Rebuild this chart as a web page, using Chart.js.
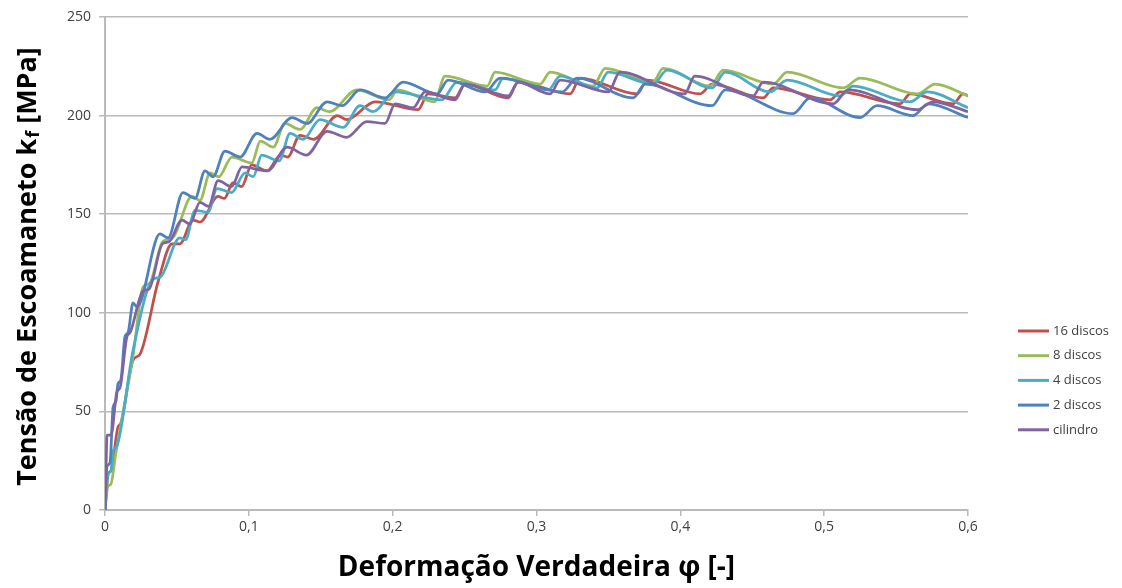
<!DOCTYPE html>
<html>
<head>
<meta charset="utf-8">
<script src="https://cdn.jsdelivr.net/npm/chart.js@4"></script>
<style>
  body { margin: 0; background: #fff; }
  #wrap { width: 1122px; height: 588px; position: relative; }
</style>
</head>
<body>
<div id="wrap"><canvas id="flowChart"></canvas></div>
<script>
// curvas de escoamento (deformacao verdadeira x tensao kf em MPa)
var seriesNames = ["16 discos", "8 discos", "4 discos", "2 discos", "cilindro"];
var seriesColors = ["#c0504d", "#9bbb59", "#4bacc6", "#4f81bd", "#8064a2"];

var disc16Phi = [0, 0.0021, 0.0042, 0.009, 0.011, 0.0195, 0.0243, 0.037, 0.0466, 0.052, 0.0612, 0.066, 0.0786, 0.083, 0.089, 0.095, 0.102, 0.1127, 0.122, 0.127, 0.1356, 0.145, 0.1616, 0.168, 0.1878, 0.2177, 0.2246, 0.2434, 0.2503, 0.2803, 0.2872, 0.3234, 0.3303, 0.37, 0.3769, 0.4138, 0.4221, 0.4576, 0.4645, 0.5042, 0.5111, 0.5528, 0.5598, 0.5897, 0.5966, 0.6];
var disc16Kf = [0, 18, 20, 42, 44, 76, 79, 116, 135, 135, 147, 146, 159, 158, 166, 164, 175, 172, 180, 179, 190, 188, 200, 198, 207, 203, 211, 209, 216, 209, 217, 211, 219, 211, 218, 211, 216, 209, 214, 208, 212, 206, 211, 206, 211, 210];

var disc8Phi = [0, 0.002, 0.004, 0.0076, 0.0139, 0.0195, 0.0264, 0.031, 0.040, 0.047, 0.0605, 0.066, 0.073, 0.079, 0.0883, 0.102, 0.108, 0.117, 0.125, 0.1356, 0.1474, 0.156, 0.1752, 0.1975, 0.2033, 0.229, 0.2364, 0.2657, 0.2712, 0.3025, 0.3095, 0.3394, 0.3477, 0.381, 0.388, 0.4207, 0.4298, 0.4645, 0.4743, 0.5132, 0.525, 0.5647, 0.5772, 0.6];
var disc8Kf = [0, 12, 13, 29, 55, 78, 113, 115, 136, 138, 159, 157, 171, 169, 179, 176, 187, 184, 196, 193, 204, 202, 213, 208, 213, 207, 220, 215, 222, 216, 222, 215, 224, 217, 224, 215, 223, 216, 222, 214, 219, 211, 216, 210];

var disc4Phi = [0, 0.0021, 0.0042, 0.0056, 0.008, 0.0195, 0.0334, 0.0382, 0.052, 0.056, 0.0626, 0.0716, 0.0779, 0.088, 0.0974, 0.103, 0.109, 0.121, 0.1287, 0.1377, 0.1495, 0.1655, 0.1773, 0.1864, 0.2017, 0.234, 0.2448, 0.2712, 0.2768, 0.3081, 0.3164, 0.3421, 0.3498, 0.3811, 0.3908, 0.4221, 0.4312, 0.4624, 0.4743, 0.5111, 0.5202, 0.5598, 0.5716, 0.6];
var disc4Kf = [0, 18, 20, 30, 32, 81, 117, 118, 138, 137, 152, 151, 163, 161, 171, 169, 180, 177, 191, 188, 198, 194, 205, 202, 212, 208, 217, 213, 219, 213, 220, 214, 222, 216, 223, 214, 222, 212, 218, 210, 215, 207, 212, 204];

var disc2Phi = [0, 0.0014, 0.0035, 0.0056, 0.0076, 0.009, 0.011, 0.0139, 0.016, 0.0195, 0.0223, 0.0382, 0.0438, 0.0542, 0.0626, 0.0695, 0.0751, 0.0834, 0.0939, 0.1057, 0.1147, 0.130, 0.1405, 0.1544, 0.1648, 0.1773, 0.1947, 0.2072, 0.2309, 0.2385, 0.2643, 0.2747, 0.3178, 0.3282, 0.3672, 0.3755, 0.4221, 0.4312, 0.4784, 0.4903, 0.525, 0.5368, 0.5619, 0.5723, 0.6];
var disc2Kf = [0, 22, 24, 52, 55, 64, 66, 88, 90, 105, 103, 140, 138, 161, 158, 172, 169, 182, 179, 191, 188, 199, 196, 207, 205, 213, 209, 217, 211, 218, 212, 219, 212, 219, 209, 216, 205, 213, 201, 209, 199, 205, 200, 206, 199];

var cylPhi = [0, 0.0007, 0.0014, 0.0042, 0.0083, 0.0104, 0.0153, 0.0174, 0.0264, 0.0306, 0.040, 0.0445, 0.0535, 0.059, 0.066, 0.072, 0.0786, 0.088, 0.0953, 0.113, 0.1266, 0.14, 0.1544, 0.168, 0.182, 0.1947, 0.2017, 0.2142, 0.2225, 0.2434, 0.2503, 0.2803, 0.2872, 0.3095, 0.3164, 0.35, 0.358, 0.403, 0.41, 0.4506, 0.4576, 0.5062, 0.5167, 0.5647, 0.5758, 0.6];
var cylKf = [0, 20, 38, 38, 60, 62, 88, 90, 111, 112, 135, 136, 147, 145, 156, 154, 167, 164, 174, 172, 184, 180, 192, 189, 197, 196, 206, 204, 212, 208, 216, 210, 217, 211, 218, 212, 222, 211, 220, 210, 217, 206, 213, 203, 207, 202];

var xTicks = [0, 0.1, 0.2, 0.3, 0.4, 0.5, 0.6];
var yTicks = [0, 50, 100, 150, 200, 250];

var allPhi = [disc16Phi, disc8Phi, disc4Phi, disc2Phi, cylPhi];
var allKf = [disc16Kf, disc8Kf, disc4Kf, disc2Kf, cylKf];

function toPoints(xs, ys) {
    var pts = [];
    for (var i = 0; i < xs.length; i++) {
        pts.push({ x: xs[i], y: ys[i] });
    }
    return pts;
}

var datasets = seriesNames.map(function (name, i) {
    return {
        label: name,
        data: toPoints(allPhi[i], allKf[i]),
        borderColor: seriesColors[i],
        backgroundColor: seriesColors[i],
        borderWidth: 2.75,
        pointRadius: 0,
        cubicInterpolationMode: 'monotone',
        order: seriesNames.length - i // ultima serie por cima, como no excel
    };
});

var gridGray = '#bababa';
var tickFont = { family: "'Liberation Sans Narrow', 'Open Sans', sans-serif", size: 14 };

// titulo do eixo y com subscrito e legenda desenhados a mao
var extrasPlugin = {
    id: 'extras',
    afterDraw: function (chart) {
        var ctx = chart.ctx;
        var area = chart.chartArea;

        ctx.save();
        ctx.translate(28, 267);
        ctx.rotate(-Math.PI / 2);
        ctx.fillStyle = '#000';
        ctx.textBaseline = 'middle';
        var big = "bold 27px 'Open Sans', sans-serif";
        var small = "bold 18px 'Open Sans', sans-serif";
        var p1 = 'Tensão de Escoamaneto k', p2 = 'f', p3 = ' [MPa]';
        ctx.font = big;
        var w1 = ctx.measureText(p1).width, w3 = ctx.measureText(p3).width;
        ctx.font = small;
        var w2 = ctx.measureText(p2).width;
        var start = -(w1 + w2 + w3) / 2;
        ctx.font = big;
        ctx.fillText(p1, start, 0);
        ctx.font = small;
        ctx.fillText(p2, start + w1 + 1, 6);
        ctx.font = big;
        ctx.fillText(p3, start + w1 + w2 + 1, 0);
        ctx.restore();

        ctx.save();
        var lx = area.right + 50;
        var ly = 331;
        ctx.font = "13px 'Liberation Sans Narrow', 'Open Sans', sans-serif";
        ctx.textBaseline = 'middle';
        chart.data.datasets.forEach(function (ds, i) {
            var y = ly + i * 24.7;
            ctx.strokeStyle = ds.borderColor;
            ctx.lineWidth = 3;
            ctx.beginPath();
            ctx.moveTo(lx, y);
            ctx.lineTo(lx + 31, y);
            ctx.stroke();
            ctx.fillStyle = '#404040';
            ctx.fillText(ds.label, lx + 35, y);
        });
        ctx.restore();
    }
};

var config = {
    type: 'line',
    data: { datasets: datasets },
    options: {
        responsive: true,
        maintainAspectRatio: false,
        animation: false,
        layout: { padding: { left: 0, right: 154, top: 17, bottom: 0 } },
        plugins: {
            legend: { display: false },
            tooltip: { enabled: false }
        },
        scales: {
            x: {
                type: 'linear',
                min: 0,
                max: 0.6,
                afterFit: function (scale) { scale.height = 78; },
                afterBuildTicks: function (scale) {
                    scale.ticks = xTicks.map(function (v) { return { value: v }; });
                },
                ticks: {
                    color: '#404040',
                    font: tickFont,
                    padding: 3,
                    maxRotation: 0,
                    callback: function (v) {
                        return v === 0 ? '0' : v.toFixed(1).replace('.', ',');
                    }
                },
                grid: {
                    drawOnChartArea: false,
                    drawTicks: true,
                    tickLength: 6,
                    tickColor: gridGray,
                    lineWidth: 1.5
                },
                border: { color: gridGray, width: 2 },
                title: {
                    display: true,
                    text: 'Deformação Verdadeira φ [-]',
                    color: '#000',
                    font: { family: "'Open Sans', sans-serif", size: 28, weight: 'bold' },
                    padding: { top: 0, bottom: 3 }
                }
            },
            y: {
                min: 0,
                max: 250,
                afterFit: function (scale) { scale.width = 105; },
                afterBuildTicks: function (scale) {
                    scale.ticks = yTicks.map(function (v) { return { value: v }; });
                },
                ticks: {
                    color: '#404040',
                    font: tickFont,
                    padding: 8
                },
                grid: {
                    color: gridGray,
                    lineWidth: 1.5,
                    tickLength: 6,
                    tickColor: gridGray
                },
                border: { color: gridGray, width: 2 }
            }
        }
    },
    plugins: [extrasPlugin]
};

var flowChart = new Chart(document.getElementById('flowChart'), config);
</script>
</body>
</html>
